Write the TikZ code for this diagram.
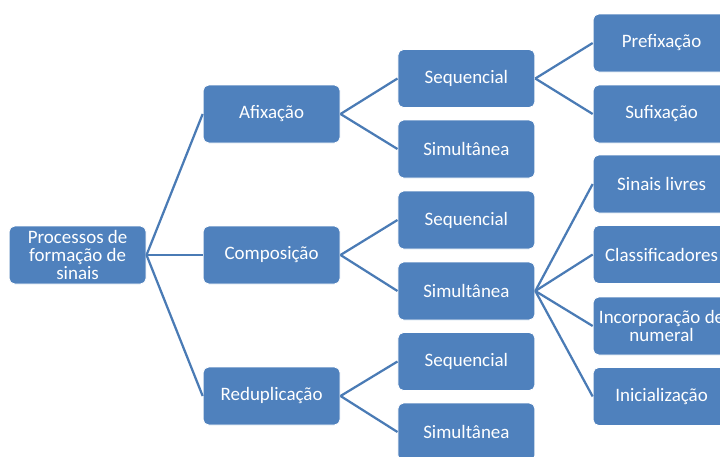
\documentclass[tikz,border=0pt]{standalone}
\usepackage{fontspec}
\setmainfont{Carlito}
\usepackage{xcolor}
\definecolor{boxblue}{HTML}{4F81BD}
\definecolor{linkblue}{HTML}{4A7BB5}

\begin{document}
\begin{tikzpicture}[
    font=\fontsize{13.5}{12.8}\selectfont,
    procbox/.style={
        rectangle,
        rounded corners=4pt,
        draw=white,
        line width=0.6pt,
        fill=boxblue,
        text=white,
        align=center,
        inner sep=1pt,
        minimum width=3.425cm,
        minimum height=1.45cm
    },
    link/.style={
        draw=linkblue,
        line width=1.6pt
    }
]

% =========================================================
% Frame
% =========================================================
\useasboundingbox (0,0) rectangle (18,-11.425);
\clip (0,0) rectangle (18,-11.425);

% =========================================================
% Root
% =========================================================
\node[procbox] (root) at (1.94,-6.375)
{Processos de\\formação de\\sinais};

% =========================================================
% First level
% =========================================================
\node[procbox] (afix) at (6.79,-2.85) {Afixação};
\node[procbox] (comp) at (6.79,-6.375) {Composição};
\node[procbox] (redup) at (6.79,-9.9) {Reduplicação};

% =========================================================
% Second level
% =========================================================
\node[procbox] (afixseq) at (11.66,-1.9625) {Sequencial};
\node[procbox] (afixsim) at (11.66,-3.725) {Simultânea};
\node[procbox] (compseq) at (11.66,-5.5) {Sequencial};
\node[procbox] (compsim) at (11.66,-7.275) {Simultânea};
\node[procbox] (redupseq) at (11.66,-9.0375) {Sequencial};
\node[procbox] (redupsim) at (11.66,-10.8) {Simultânea};

% =========================================================
% Third level
% =========================================================
\node[procbox] (prefix) at (16.54,-1.075) {Prefixação};
\node[procbox] (sufix) at (16.54,-2.85) {Sufixação};
\node[procbox] (livres) at (16.54,-4.6) {Sinais livres};
\node[procbox] (classif) at (16.54,-6.3625) {Classificadores};
\node[procbox] (incorp) at (16.54,-8.15) {Incorporação de\\numeral};
\node[procbox] (inicial) at (16.54,-9.9125) {Inicialização};

% =========================================================
% Connectors
% =========================================================
\draw[link] (root.east) -- (afix.west);
\draw[link] (root.east) -- (comp.west);
\draw[link] (root.east) -- (redup.west);

\draw[link] (afix.east) -- (afixseq.west);
\draw[link] (afix.east) -- (afixsim.west);
\draw[link] (comp.east) -- (compseq.west);
\draw[link] (comp.east) -- (compsim.west);
\draw[link] (redup.east) -- (redupseq.west);
\draw[link] (redup.east) -- (redupsim.west);

\draw[link] (afixseq.east) -- (prefix.west);
\draw[link] (afixseq.east) -- (sufix.west);

\foreach \leaf in {livres,classif,incorp,inicial}
    \draw[link] (compsim.east) -- (\leaf.west);

\end{tikzpicture}
\end{document}
